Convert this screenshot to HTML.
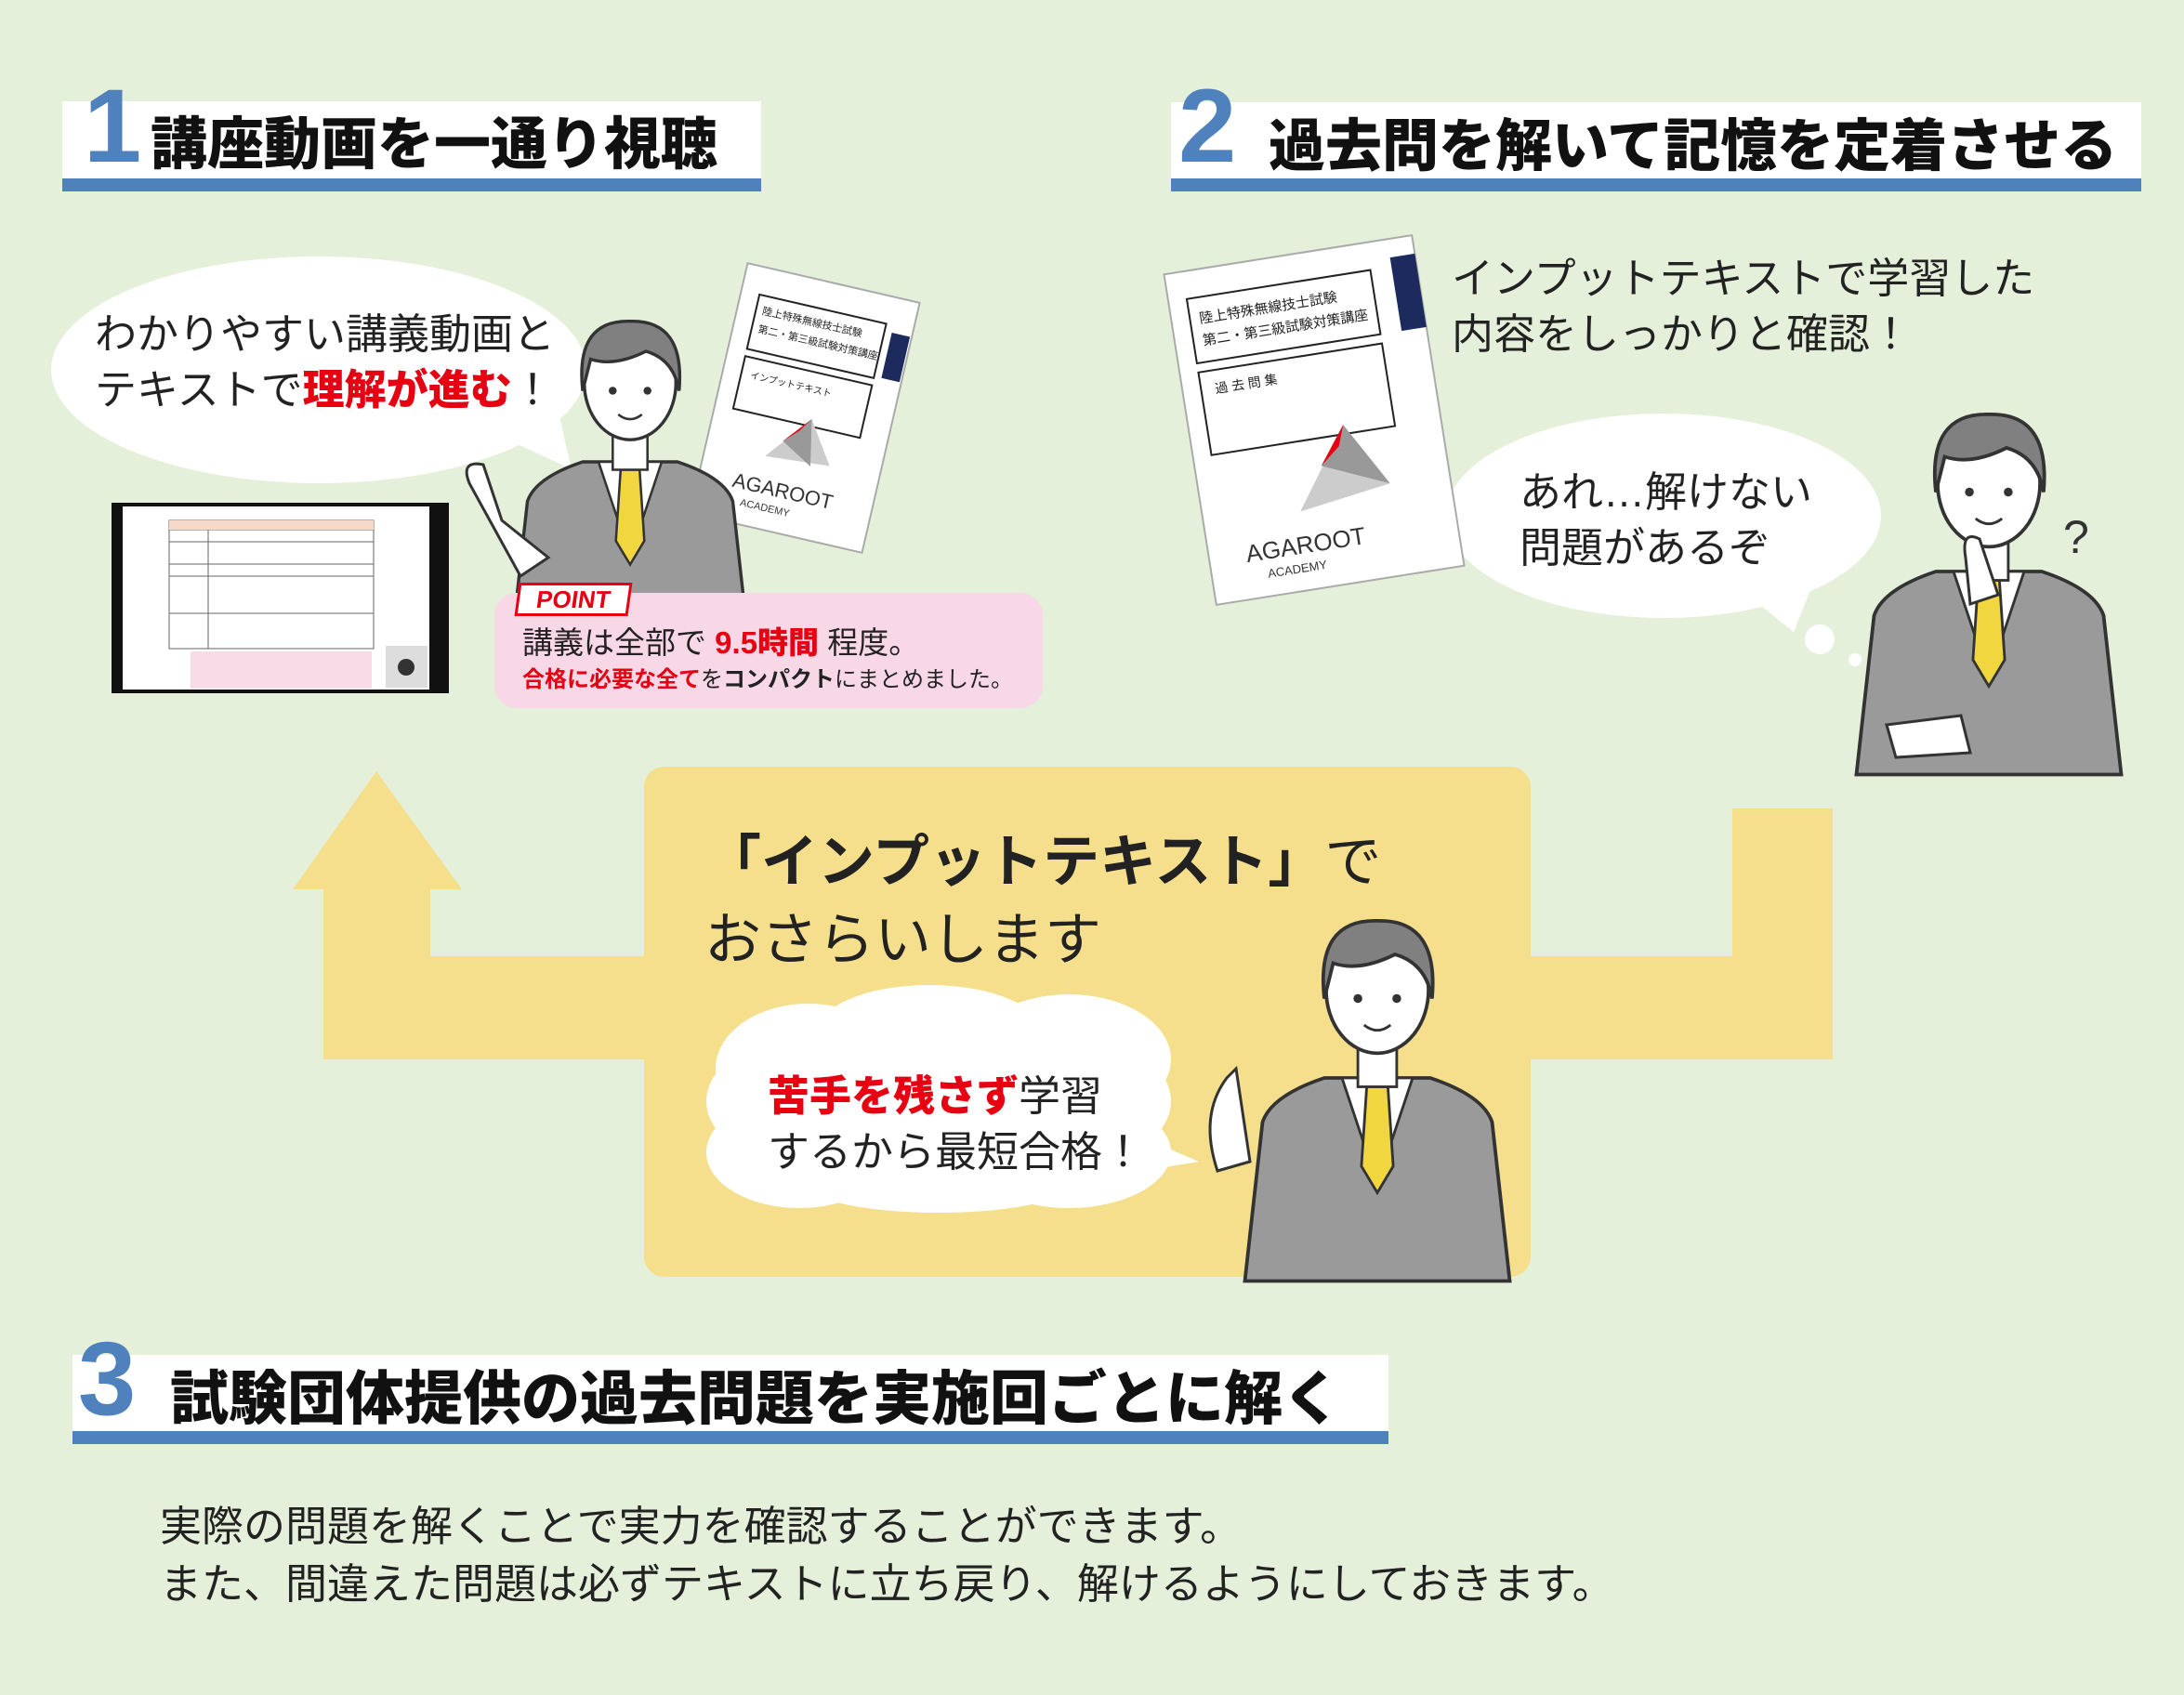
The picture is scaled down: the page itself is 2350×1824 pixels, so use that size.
<!DOCTYPE html>
<html><head><meta charset="utf-8"><style>
*{margin:0;padding:0;box-sizing:border-box}
body{width:2350px;height:1824px;background:#e5f0da;position:relative;overflow:hidden;font-family:"Liberation Sans","Noto Sans CJK JP",sans-serif;color:#222}
.abs{position:absolute;white-space:nowrap}
.hdr{position:absolute;background:#fff;border-bottom:14px solid #4f81bd}
.num{position:absolute;color:#4f81bd;font-weight:900;font-family:"Liberation Sans",sans-serif;line-height:1}
.tt{position:absolute;font-weight:900;font-size:60px;line-height:1;color:#111;white-space:nowrap}
.t45{font-size:45px;line-height:60px}
.red{color:#e60012;font-weight:bold}
</style></head><body>

<svg class="abs" style="left:0;top:0" width="2350" height="1824">
 <g fill="#f5df8c">
  <rect x="693" y="825" width="954" height="549" rx="22"/>
  <rect x="348" y="957" width="115" height="183"/>
  <rect x="460" y="1029" width="240" height="111"/>
  <polygon points="405,830 315,957 497,957"/>
  <rect x="1864" y="870" width="108" height="270"/>
  <rect x="1640" y="1029" width="332" height="111"/>
 </g>
 <ellipse cx="343" cy="398" rx="288" ry="122" fill="#fff"/>
 <polygon points="540,470 615,505 600,440" fill="#fff"/>
 <ellipse cx="1790" cy="555" rx="234" ry="110" fill="#fff"/>
 <polygon points="1880,640 1930,680 1950,630" fill="#fff"/>
 <circle cx="1958" cy="688" r="16" fill="#fff"/>
 <circle cx="1996" cy="710" r="7" fill="#fff"/>
 <g fill="#fff">
  <ellipse cx="1010" cy="1185" rx="250" ry="105"/>
  <ellipse cx="870" cy="1150" rx="100" ry="70"/>
  <ellipse cx="1000" cy="1110" rx="120" ry="50"/>
  <ellipse cx="1150" cy="1140" rx="110" ry="70"/>
  <ellipse cx="860" cy="1240" rx="100" ry="60"/>
  <ellipse cx="1150" cy="1240" rx="110" ry="60"/>
  <ellipse cx="1010" cy="1270" rx="150" ry="35"/>
  <polygon points="1220,1220 1290,1250 1230,1260"/>
 </g>
 <rect x="120" y="541" width="363" height="205" fill="#111"/>
 <rect x="132" y="545" width="330" height="197" fill="#fff"/>
 <g stroke="#666" stroke-width="1" fill="none">
  <rect x="182" y="560" width="220" height="138"/>
  <line x1="224" y1="560" x2="224" y2="698"/>
  <line x1="182" y1="570" x2="402" y2="570"/><line x1="182" y1="583" x2="402" y2="583"/>
  <line x1="182" y1="607" x2="402" y2="607"/><line x1="182" y1="620" x2="402" y2="620"/>
  <line x1="182" y1="660" x2="402" y2="660"/>
 </g>
 <rect x="182" y="560" width="220" height="10" fill="#f6d9c8"/>
 <rect x="205" y="701" width="195" height="40" fill="#f8dbe6"/>
 <rect x="415" y="695" width="45" height="45" fill="#ddd"/>
 <circle cx="437" cy="718" r="9" fill="#333"/>
 <g transform="translate(866,439) rotate(13)">
  <rect x="-95" y="-138" width="190" height="276" fill="#fff" stroke="#aaa" stroke-width="2"/>
  <rect x="73" y="-100" width="20" height="50" fill="#1c2a5e"/>
  <rect x="-75" y="-108" width="140" height="60" fill="none" stroke="#222" stroke-width="2"/>
  <text x="-68" y="-88" font-size="11" fill="#222">陸上特殊無線技士試験</text>
  <text x="-68" y="-68" font-size="11" fill="#222">第二・第三級試験対策講座</text>
  <rect x="-75" y="-40" width="140" height="58" fill="none" stroke="#222" stroke-width="2"/>
  <text x="-65" y="-18" font-size="10" fill="#222">インプットテキスト</text>
  <polygon points="10,10 -30,60 40,55" fill="#ccc"/>
  <polygon points="10,10 -15,40 20,60" fill="#999"/>
  <polygon points="10,10 -15,40 0,25" fill="#e60012"/>
  <text x="-58" y="100" font-size="22" fill="#333">AGAROOT</text>
  <text x="-45" y="118" font-size="11" fill="#333">ACADEMY</text>
 </g>
 <g transform="translate(1414,452) rotate(-9)">
  <rect x="-135" y="-180" width="270" height="360" fill="#fff" stroke="#aaa" stroke-width="2"/>
  <rect x="108" y="-160" width="27" height="80" fill="#1c2a5e"/>
  <rect x="-115" y="-150" width="200" height="70" fill="none" stroke="#222" stroke-width="2"/>
  <text x="-105" y="-122" font-size="15" fill="#222">陸上特殊無線技士試験</text>
  <text x="-105" y="-98" font-size="15" fill="#222">第二・第三級試験対策講座</text>
  <rect x="-115" y="-70" width="200" height="90" fill="none" stroke="#222" stroke-width="2"/>
  <text x="-100" y="-45" font-size="14" fill="#222">過 去 問 集</text>
  <polygon points="30,10 -30,95 70,80" fill="#ccc"/>
  <polygon points="30,10 0,50 70,80" fill="#999"/>
  <polygon points="30,10 0,50 22,32" fill="#e60012"/>
  <text x="-95" y="140" font-size="26" fill="#333">AGAROOT</text>
  <text x="-75" y="160" font-size="13" fill="#333">ACADEMY</text>
 </g>
 <defs>
  <g id="man">
   <path d="M-150,330 L-130,150 Q-120,120 -60,100 L60,100 Q120,120 130,150 L150,330 Z" fill="#9a9a9a" stroke="#333" stroke-width="4"/>
   <polygon points="-40,100 40,100 0,220" fill="#fff" stroke="#333" stroke-width="3"/>
   <polygon points="-12,110 12,110 18,200 0,230 -18,200" fill="#f2d640" stroke="#333" stroke-width="3"/>
   <rect x="-22" y="60" width="44" height="50" fill="#fff" stroke="#333" stroke-width="3"/>
   <ellipse cx="0" cy="0" rx="58" ry="72" fill="#fff" stroke="#333" stroke-width="4"/>
   <path d="M-60,10 Q-70,-80 0,-78 Q70,-80 62,10 Q55,-30 20,-40 Q-20,-20 -50,-30 Z" fill="#808080" stroke="#333" stroke-width="4"/>
   <circle cx="-22" cy="10" r="5" fill="#333"/><circle cx="22" cy="10" r="5" fill="#333"/>
   <path d="M-15,40 Q0,52 15,40" fill="none" stroke="#333" stroke-width="3"/>
  </g>
 </defs>
 <g transform="translate(678,412) scale(0.85)"><use href="#man"/></g>
 <path d="M505,520 Q495,495 520,500 L540,560 L590,600 L560,620 Z" fill="#fff" stroke="#333" stroke-width="3"/>
 <g transform="translate(2140,520) scale(0.95)"><use href="#man"/></g>
 <text x="2220" y="595" font-size="50" fill="#333">?</text>
 <path d="M2115,600 Q2110,570 2130,580 L2150,640 L2120,650 Z" fill="#fff" stroke="#333" stroke-width="3"/>
 <path d="M2030,780 L2110,770 L2120,810 L2040,815 Z" fill="#fff" stroke="#333" stroke-width="3"/>
 <g transform="translate(1482,1065) scale(0.95)"><use href="#man"/></g>
 <path d="M1320,1160 L1330,1150 L1345,1250 L1310,1260 Q1290,1200 1320,1160 Z" fill="#fff" stroke="#333" stroke-width="3"/>
</svg>

<div class="hdr" style="left:67px;top:109px;width:752px;height:97px"></div>
<div class="num" style="left:90px;top:80px;font-size:112px">1</div>
<div class="tt" style="left:162px;top:125px;font-size:61px">講座動画を一通り視聴</div>

<div class="hdr" style="left:1260px;top:110px;width:1044px;height:96px"></div>
<div class="num" style="left:1268px;top:80px;font-size:112px">2</div>
<div class="tt" style="left:1365px;top:127px;font-size:61px">過去問を解いて記憶を定着させる</div>

<div class="hdr" style="left:78px;top:1458px;width:1416px;height:96px"></div>
<div class="num" style="left:84px;top:1428px;font-size:112px">3</div>
<div class="tt" style="left:183px;top:1475px;font-size:63px">試験団体提供の過去問題を実施回ごとに解く</div>

<div class="abs t45" style="left:102px;top:330px">わかりやすい講義動画と<br>テキストで<span class="red" style="font-weight:900">理解が進む</span>！</div>
<div class="abs t45" style="left:1562px;top:270px">インプットテキストで学習した<br>内容をしっかりと確認！</div>
<div class="abs t45" style="left:1635px;top:500px">あれ…解けない<br>問題があるぞ</div>

<div class="abs" style="left:532px;top:638px;width:590px;height:124px;background:#f8d7e6;border-radius:24px"></div>
<div class="abs" style="left:556px;top:627px;width:122px;height:36px;background:#fff;border:3px solid #e60012;color:#e60012;font-weight:900;font-size:26px;line-height:30px;text-align:center;transform:skewX(-8deg)">POINT</div>
<div class="abs" style="left:562px;top:670px;font-size:33px;line-height:44px">講義は全部で <span class="red" style="font-weight:900">9.5時間</span> 程度。</div>
<div class="abs" style="left:562px;top:716px;font-size:24px;line-height:32px"><span class="red">合格に必要な全て</span>を<b>コンパクト</b>にまとめました。</div>

<div class="abs" style="left:758px;top:885px;font-size:61px;line-height:84px"><b>「インプットテキスト」</b>で<br>おさらいします</div>
<div class="abs t45" style="left:826px;top:1150px"><span class="red" style="font-weight:900">苦手を残さず</span>学習<br>するから最短合格！</div>

<div class="abs" style="left:172px;top:1612px;font-size:45px;line-height:62px">実際の問題を解くことで実力を確認することができます。<br>また、間違えた問題は必ずテキストに立ち戻り、解けるようにしておきます。</div>
</body></html>
